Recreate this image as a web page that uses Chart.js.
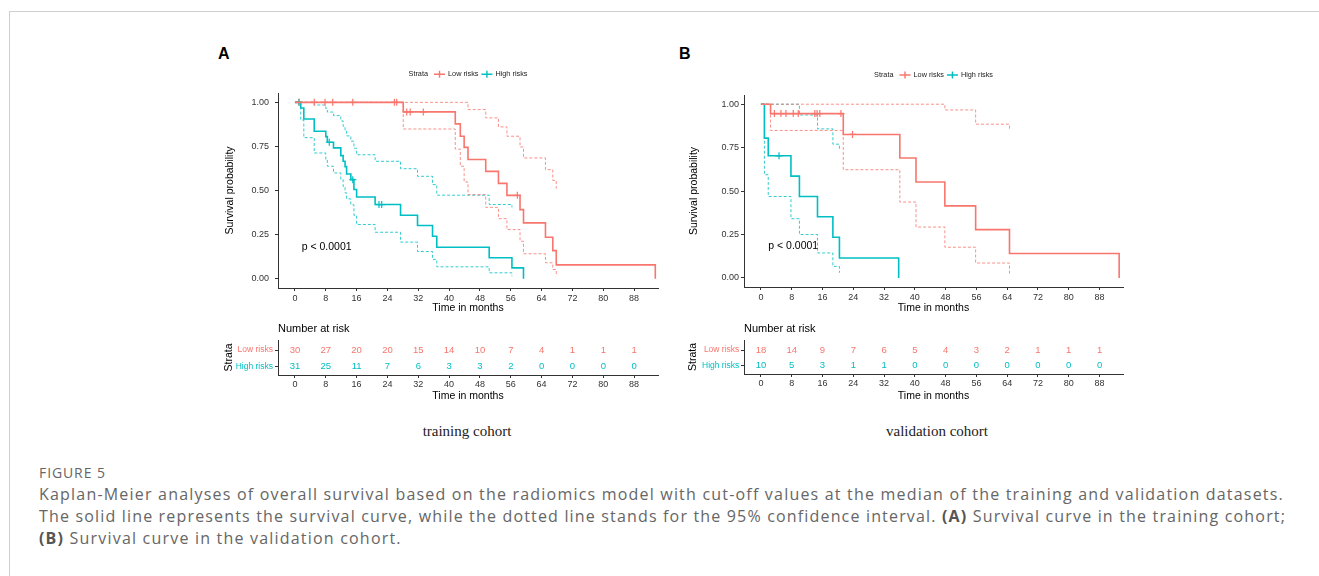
<!DOCTYPE html>
<html lang="en">
<head>
<meta charset="utf-8">
<title>Figure 5</title>
<script src="https://cdn.jsdelivr.net/npm/chart.js@4.4.1/dist/chart.umd.min.js"></script>
<style>
  html, body { margin: 0; padding: 0; background: #fff; }
  body { position: relative; width: 1319px; height: 576px; overflow: hidden; font-family: "Liberation Sans", Arial, sans-serif; }
  .frame { position: absolute; left: 9px; top: 11px; width: 1320px; height: 580px; border-top: 1px solid #cfcfcf; border-left: 1px solid #cfcfcf; }
  canvas { position: absolute; }
  .tag { position: absolute; top: 46px; font-weight: bold; font-size: 16px; line-height: 16px; color: #000; }
  .cohort { position: absolute; top: 424px; width: 300px; margin-left: -150px; text-align: center; font-family: "Liberation Serif", serif; font-size: 15px; line-height: 15px; color: #222; }
  .caption { position: absolute; left: 39px; top: 463px; width: 1275px; font-family: "Open Sans", sans-serif; color: #666; }
  .caption .fig { font-size: 14px; letter-spacing: 0.9px; line-height: 20px; }
  .caption p { margin: 0; font-size: 16px; line-height: 22px; white-space: nowrap; }
  .caption b { color: #555; }
</style>
</head>
<body>
<div class="frame"></div>
<div class="tag" style="left:218px">A</div>
<div class="tag" style="left:679px">B</div>
<canvas id="kmTrain" width="460" height="260" style="left:210px;top:60px"></canvas>
<canvas id="riskTrain" width="460" height="88" style="left:210px;top:318px"></canvas>
<canvas id="kmValid" width="460" height="260" style="left:680px;top:60px"></canvas>
<canvas id="riskValid" width="460" height="88" style="left:680px;top:318px"></canvas>
<div class="cohort" style="left:467px">training cohort</div>
<div class="cohort" style="left:937px">validation cohort</div>
<div class="caption">
  <div class="fig">FIGURE 5</div>
  <p style="letter-spacing:1.2px">Kaplan-Meier analyses of overall survival based on the radiomics model with cut-off values at the median of the training and validation datasets.</p>
  <p style="letter-spacing:1.17px">The solid line represents the survival curve, while the dotted line stands for the 95% confidence interval. <b>(A)</b> Survival curve in the training cohort;</p>
  <p style="letter-spacing:1.2px"><b>(B)</b> Survival curve in the validation cohort.</p>
</div>
<script>
const RED = '#F8766D';
const TEAL = '#00BFC4';
const FONT = '"Liberation Sans", Arial, sans-serif';

const strata = ['Low risks', 'High risks'];
const monthTicks = [0, 8, 16, 24, 32, 40, 48, 56, 64, 72, 80, 88];
const probTicks = [0, 0.25, 0.5, 0.75, 1];
const pText = 'p < 0.0001';

// training cohort - low risks
const trainLowTime = [0, 28.1, 41.6, 42.9, 43.9, 44.9, 49.5, 52.8, 55.0, 58.4, 59.3, 65.0, 66.9, 67.8, 93.5];
const trainLowSurv = [1, 0.946, 0.878, 0.808, 0.745, 0.676, 0.609, 0.541, 0.473, 0.392, 0.317, 0.236, 0.160, 0.079, 0];
const trainLowUpper = [1, 1, 1, 1, 1, 0.959, 0.912, 0.861, 0.808, 0.747, 0.685, 0.619, 0.557, 0.511];
const trainLowLower = [1, 0.849, 0.735, 0.638, 0.549, 0.477, 0.405, 0.341, 0.279, 0.213, 0.142, 0.091, 0.053, 0.015];
const trainLowCensor = [1.1, 5.0, 7.8, 9.8, 15.0, 25.8, 26.4, 29.0, 29.9, 33.3, 57.7];

// training cohort - high risks
const trainHighTime = [0, 1.5, 2.3, 5.0, 8.0, 8.4, 10.0, 11.9, 12.5, 13.0, 13.4, 14.5, 15.3, 16.0, 20.8, 27.4, 31.8, 35.7, 36.8, 50.4, 56.3, 59.3];
const trainHighSurv = [1, 0.968, 0.906, 0.836, 0.806, 0.774, 0.742, 0.698, 0.666, 0.636, 0.594, 0.562, 0.506, 0.464, 0.421, 0.360, 0.302, 0.241, 0.179, 0.119, 0.062, 0];
const trainHighUpper = [1, 1, 1, 0.985, 0.965, 0.945, 0.925, 0.895, 0.865, 0.84, 0.81, 0.78, 0.74, 0.703, 0.666, 0.624, 0.581, 0.534, 0.474, 0.421, 0.405];
const trainHighLower = [1, 0.90, 0.80, 0.713, 0.676, 0.638, 0.60, 0.562, 0.524, 0.487, 0.453, 0.42, 0.36, 0.308, 0.264, 0.208, 0.155, 0.11, 0.068, 0.034, 0.015];
const trainHighCensor = [1.0, 8.9, 15.0, 21.8, 22.5];

// validation cohort - low risks
const validLowTime = [0, 2.5, 21.4, 36.1, 40.3, 47.8, 55.8, 64.6, 93.1];
const validLowSurv = [1, 0.946, 0.826, 0.690, 0.552, 0.415, 0.278, 0.141, 0];
const validLowUpper = [1, 1, 1, 1, 1, 0.967, 0.885, 0.85];
const validLowLower = [1, 0.849, 0.623, 0.437, 0.293, 0.177, 0.086, 0.02];
const validLowCensor = [3.5, 5.2, 6.5, 8.4, 9.7, 14.0, 14.6, 15.3, 20.8, 23.8];

// validation cohort - high risks
const validHighTime = [0, 0.9, 1.9, 7.8, 10.0, 14.7, 18.7, 20.4, 35.8];
const validHighSurv = [1, 0.805, 0.703, 0.586, 0.469, 0.352, 0.234, 0.115, 0];
const validHighUpper = [1, 1, 1, 1, 0.938, 0.858, 0.77, 0.737];
const validHighLower = [1, 0.594, 0.469, 0.341, 0.25, 0.144, 0.067, 0.03];
const validHighCensor = [4.7];

// numbers at risk
const trainLowRisk = [30, 27, 20, 20, 15, 14, 10, 7, 4, 1, 1, 1];
const trainHighRisk = [31, 25, 11, 7, 6, 3, 3, 2, 0, 0, 0, 0];
const validLowRisk = [18, 14, 9, 7, 6, 5, 4, 3, 2, 1, 1, 1];
const validHighRisk = [10, 5, 3, 1, 1, 0, 0, 0, 0, 0, 0, 0];

Chart.defaults.font.family = FONT;
Chart.defaults.color = '#333';

function pts(times, vals) {
  return vals.map((v, i) => ({ x: times[i], y: v }));
}

function survAt(times, vals, t) {
  let s = vals[0];
  times.forEach((tt, i) => { if (tt <= t) s = vals[i]; });
  return s;
}

function stepLine(times, vals, color, dashed) {
  return {
    data: pts(times, vals),
    showLine: true,
    stepped: true,
    pointRadius: 0,
    borderColor: dashed ? color + 'CC' : color,
    borderWidth: dashed ? 1 : 1.6,
    borderDash: dashed ? [3, 2] : [],
    fill: false
  };
}

function censorMarks(cens, times, vals, color) {
  return {
    data: cens.map(t => ({ x: t, y: survAt(times, vals, t) })),
    showLine: false,
    pointStyle: 'cross',
    pointRadius: 3.5,
    borderColor: color,
    borderWidth: 1.2
  };
}

function monthAxis(lay) {
  return {
    type: 'linear',
    min: lay.xmin,
    max: lay.xmax,
    afterBuildTicks: s => { s.ticks = monthTicks.map(v => ({ value: v })); },
    afterFit: s => { s.height = lay.xH; },
    ticks: { color: '#333', font: { size: 9 }, padding: lay.xTickPad, maxRotation: 0, autoSkip: false },
    grid: { drawOnChartArea: false, tickLength: 3, color: '#333' },
    border: { color: '#333' },
    title: {
      display: true, text: 'Time in months', color: '#000',
      font: { size: 10.5, lineHeight: 1.2 }, padding: { top: 0, bottom: lay.xTitlePad }
    }
  };
}

function drawLegend(chart, y) {
  const ctx = chart.ctx, area = chart.chartArea;
  ctx.save();
  ctx.font = '7.3px ' + FONT;
  ctx.textBaseline = 'middle';
  ctx.textAlign = 'left';
  const items = [{ text: 'Strata' }, { key: RED }, { text: strata[0] }, { key: TEAL }, { text: strata[1] }];
  const gaps = [6, 3, 3, 3, 0];
  let total = 0;
  items.forEach((it, i) => {
    it.w = it.text ? ctx.measureText(it.text).width : 11;
    total += it.w + gaps[i];
  });
  let x = (area.left + area.right) / 2 - total / 2;
  items.forEach((it, i) => {
    if (it.text) {
      ctx.fillStyle = '#222';
      ctx.fillText(it.text, x, y);
    } else {
      ctx.strokeStyle = it.key;
      ctx.lineWidth = 1.4;
      ctx.beginPath();
      ctx.moveTo(x, y); ctx.lineTo(x + 11, y);
      ctx.moveTo(x + 5.5, y - 3.5); ctx.lineTo(x + 5.5, y + 3.5);
      ctx.stroke();
    }
    x += it.w + gaps[i];
  });
  ctx.restore();
}

function kmChart(id, low, high, lay) {
  const datasets = [
    censorMarks(low.censor, low.time, low.surv, RED),
    censorMarks(high.censor, high.time, high.surv, TEAL),
    stepLine(low.time, low.surv, RED, false),
    stepLine(high.time, high.surv, TEAL, false),
    stepLine(low.time, low.upper, RED, true),
    stepLine(low.time, low.lower, RED, true),
    stepLine(high.time, high.upper, TEAL, true),
    stepLine(high.time, high.lower, TEAL, true)
  ];
  return new Chart(document.getElementById(id), {
    type: 'scatter',
    data: { datasets: datasets },
    options: {
      responsive: false,
      animation: false,
      events: [],
      layout: { padding: { left: 0, top: lay.top, right: lay.right, bottom: 0 } },
      plugins: { legend: { display: false }, tooltip: { enabled: false } },
      scales: {
        x: monthAxis(lay),
        y: {
          type: 'linear',
          min: -0.052,
          max: 1.053,
          afterBuildTicks: s => { s.ticks = probTicks.map(v => ({ value: v })); },
          afterFit: s => { s.width = lay.yW; },
          ticks: { callback: v => v.toFixed(2), color: '#333', font: { size: 9 }, padding: lay.yTickPad },
          grid: { drawOnChartArea: false, tickLength: 3, color: '#333' },
          border: { color: '#333' },
          title: {
            display: true, text: 'Survival probability', color: '#000',
            font: { size: 10.5, lineHeight: 1.2 }, padding: { top: lay.yTitlePad, bottom: 0 }
          }
        }
      }
    },
    plugins: [{
      id: 'kmText',
      afterDraw(chart) {
        const ctx = chart.ctx;
        ctx.save();
        ctx.font = '10.5px ' + FONT;
        ctx.fillStyle = '#000';
        ctx.textAlign = 'left';
        ctx.textBaseline = 'middle';
        ctx.fillText(pText, chart.scales.x.getPixelForValue(lay.pAt[0]), chart.scales.y.getPixelForValue(lay.pAt[1]));
        ctx.restore();
        drawLegend(chart, lay.legendY);
      }
    }]
  });
}

function riskChart(id, lowRisk, highRisk, lay) {
  return new Chart(document.getElementById(id), {
    type: 'scatter',
    data: { datasets: [] },
    options: {
      responsive: false,
      animation: false,
      events: [],
      layout: { padding: { left: 0, top: lay.top, right: lay.right, bottom: 0 } },
      plugins: { legend: { display: false }, tooltip: { enabled: false } },
      scales: {
        x: monthAxis(lay),
        y: {
          type: 'linear',
          min: lay.ymin,
          max: lay.ymax,
          afterBuildTicks: s => { s.ticks = [{ value: 2 }, { value: 1 }]; },
          afterFit: s => { s.width = lay.yW; },
          ticks: {
            callback: v => (v === 2 ? strata[0] : strata[1]),
            color: c => (c.tick && c.tick.value === 2 ? RED : TEAL),
            font: { size: 8.5 },
            padding: lay.yTickPad
          },
          grid: { drawOnChartArea: false, tickLength: 3, color: '#333' },
          border: { color: '#333' },
          title: {
            display: true, text: 'Strata', color: '#000',
            font: { size: 10.5, lineHeight: 1.2 }, padding: { top: lay.yTitlePad, bottom: 0 }
          }
        }
      }
    },
    plugins: [{
      id: 'riskText',
      afterDraw(chart) {
        const ctx = chart.ctx, xs = chart.scales.x, ys = chart.scales.y;
        ctx.save();
        ctx.font = '9.5px ' + FONT;
        ctx.textAlign = 'center';
        ctx.textBaseline = 'middle';
        [[lowRisk, 2, RED], [highRisk, 1, TEAL]].forEach(([counts, level, color]) => {
          ctx.fillStyle = color;
          counts.forEach((n, i) => ctx.fillText(String(n), xs.getPixelForValue(monthTicks[i]), ys.getPixelForValue(level)));
        });
        ctx.fillStyle = '#000';
        ctx.font = '11px ' + FONT;
        ctx.textAlign = 'left';
        ctx.fillText('Number at risk', chart.chartArea.left, lay.titleY);
        ctx.restore();
      }
    }]
  });
}

kmChart('kmTrain',
  { time: trainLowTime, surv: trainLowSurv, upper: trainLowUpper, lower: trainLowLower, censor: trainLowCensor },
  { time: trainHighTime, surv: trainHighSurv, upper: trainHighUpper, lower: trainHighLower, censor: trainHighCensor },
  { top: 33, right: 12, xmin: -4.4, xmax: 94.2, xH: 32, yW: 68, xTickPad: 2, xTitlePad: 5.4, yTickPad: 6, yTitlePad: 13.7, legendY: 14.3, pAt: [1.75, 0.18] });

kmChart('kmValid',
  { time: validLowTime, surv: validLowSurv, upper: validLowUpper, lower: validLowLower, censor: validLowCensor },
  { time: validHighTime, surv: validHighSurv, upper: validHighUpper, lower: validHighLower, censor: validHighCensor },
  { top: 35, right: 17, xmin: -4.4, xmax: 94.1, xH: 33, yW: 64, xTickPad: 2, xTitlePad: 5.4, yTickPad: 2, yTitlePad: 7.7, legendY: 15, pAt: [1.9, 0.183] });

riskChart('riskTrain', trainLowRisk, trainHighRisk,
  { top: 22, right: 12, xmin: -4.4, xmax: 94.2, xH: 31, yW: 68, ymin: 0.5, ymax: 2.6, xTickPad: 1, xTitlePad: 4, yTickPad: 2, yTitlePad: 13, titleY: 11 });

riskChart('riskValid', validLowRisk, validHighRisk,
  { top: 22, right: 17, xmin: -4.4, xmax: 94.1, xH: 32, yW: 64, ymin: 0.47, ymax: 2.64, xTickPad: 1, xTitlePad: 4, yTickPad: 1.7, yTitlePad: 7, titleY: 11 });
</script>
</body>
</html>
